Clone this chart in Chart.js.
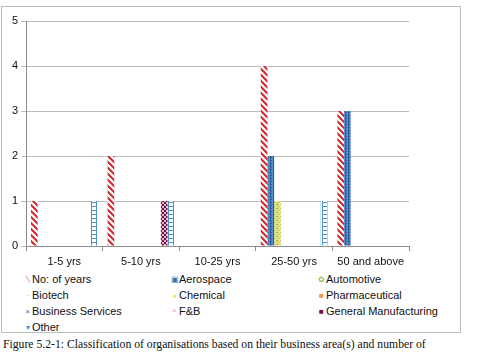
<!DOCTYPE html>
<html>
<head>
<meta charset="utf-8">
<script src="https://cdn.jsdelivr.net/npm/chart.js@4.4.0/dist/chart.umd.min.js"></script>
<style>
  body { margin: 0; background: #fff; width: 482px; height: 362px; overflow: hidden; position: relative; font-family: "Liberation Sans", Arial, sans-serif; }
  #frame { position: absolute; left: 1px; top: 6px; width: 460px; height: 327px; border: 1px solid #bdbdbd; box-sizing: border-box; }
  #wrap { position: absolute; left: 0; top: 0; width: 482px; height: 270px; }
  #legend { position: absolute; left: 24px; top: 271px; width: 440px; display: grid; grid-template-columns: 147px 147px 146px; grid-auto-rows: 16px; font-size: 11px; color: #111; }
  #legend div { display: flex; align-items: center; white-space: nowrap; }
  #legend .mk { display: inline-block; width: 7px; text-align: center; margin-right: 1px; font-size: 8px; line-height: 9px; }
  #caption { position: absolute; left: 3px; top: 338px; font-family: "Liberation Serif", "Times New Roman", serif; font-size: 11.7px; color: #111; white-space: nowrap; }
</style>
</head>
<body>
<div id="frame"></div>
<div id="wrap"><canvas id="chart" width="482" height="270"></canvas></div>
<div id="legend"></div>
<div id="caption">Figure 5.2-1: Classification of organisations based on their business area(s) and number of</div>
<script>
// === DATA ===
const categories = ["1-5 yrs", "5-10 yrs", "10-25 yrs", "25-50 yrs", "50 and above"];
const seriesNames = ["No: of years", "Aerospace", "Automotive", "Biotech", "Chemical",
  "Pharmaceutical", "Business Services", "F&B", "General Manufacturing", "Other"];
const noOfYears     = [1, 2, 0, 4, 3];
const aerospace     = [0, 0, 0, 2, 3];
const automotive    = [0, 0, 0, 1, 0];
const biotech       = [0, 0, 0, 0, 0];
const chemical      = [0, 0, 0, 0, 0];
const pharma        = [0, 0, 0, 0, 0];
const businessServ  = [0, 0, 0, 0, 0];
const fnb           = [0, 0, 0, 0, 0];
const generalManuf  = [0, 1, 0, 0, 0];
const other         = [1, 1, 0, 1, 0];
const yTicks = [0, 1, 2, 3, 4, 5];

// small repeating fills like the Excel patterns
function makePattern(w, h, draw) {
  const c = document.createElement("canvas");
  c.width = w; c.height = h;
  draw(c.getContext("2d"));
  return c.getContext("2d").createPattern(c, "repeat");
}

const stripes = makePattern(6, 6, g => {
  g.fillStyle = "#fff"; g.fillRect(0, 0, 6, 6);
  g.strokeStyle = "#d0262c"; g.lineWidth = 2;
  g.beginPath();
  g.moveTo(-1, -1); g.lineTo(7, 7);
  g.moveTo(-4, 2); g.lineTo(2, 8);
  g.moveTo(2, -4); g.lineTo(8, 2);
  g.stroke();
});
const aeroFill = makePattern(3, 3, g => {
  g.fillStyle = "#5b8ccb"; g.fillRect(0, 0, 3, 3);
  g.fillStyle = "#2c5c9c"; g.fillRect(0, 0, 1, 3); g.fillRect(1, 1, 1, 1);
});
const autoFill = makePattern(4, 4, g => {
  g.fillStyle = "#e9e27a"; g.fillRect(0, 0, 4, 4);
  g.fillStyle = "#8fae5a"; g.fillRect(0, 0, 1, 1); g.fillRect(2, 2, 1, 1); g.fillRect(1, 0, 1, 1);
});
const gmFill = makePattern(4, 4, g => {
  g.fillStyle = "#6e0f3c"; g.fillRect(0, 0, 4, 4);
  g.fillStyle = "#e6b8cc"; g.fillRect(0, 0, 2, 2); g.fillRect(2, 2, 2, 2);
});
const otherFill = makePattern(7, 4, g => {
  g.fillStyle = "#fff"; g.fillRect(0, 0, 7, 4);
  g.fillStyle = "#4a8fd2";
  g.fillRect(0, 0, 1, 4); g.fillRect(5, 0, 1, 4); g.fillRect(0, 2, 6, 1);
});

const seriesValues = [noOfYears, aerospace, automotive, biotech, chemical,
  pharma, businessServ, fnb, generalManuf, other];
const seriesFills = [stripes, aeroFill, autoFill, "#f2b3c8", "#f5e642",
  "#f79646", "#4060b0", "#e06070", gmFill, otherFill];

const datasets = seriesNames.map((name, i) => ({
  label: name,
  data: seriesValues[i],
  backgroundColor: seriesFills[i],
  borderWidth: 0,
  categoryPercentage: 0.87,
  barPercentage: 1.0
}));

new Chart(document.getElementById("chart"), {
  type: "bar",
  data: { labels: categories, datasets },
  options: {
    responsive: false,
    animation: false,
    devicePixelRatio: 1,
    layout: { padding: { left: 0, right: 73, top: 21, bottom: 0 } },
    plugins: { legend: { display: false }, tooltip: { enabled: false } },
    scales: {
      x: {
        offset: true,
        grid: { display: true, drawOnChartArea: false, offset: true, tickLength: 5, color: "#8c8c8c" },
        border: { color: "#8c8c8c" },
        ticks: { color: "#111", font: { family: "Liberation Sans", size: 11 }, padding: 4, maxRotation: 0, autoSkip: false },
        afterFit: s => { s.height = 24; }
      },
      y: {
        min: 0, max: 5,
        afterBuildTicks: s => { s.ticks = yTicks.map(v => ({ value: v })); },
        grid: { color: "#bdbdbd", tickLength: 5 },
        border: { color: "#8c8c8c" },
        ticks: { color: "#111", font: { family: "Liberation Sans", size: 11 }, padding: 3 },
        afterFit: s => { s.width = 26; }
      }
    }
  }
});

// legend in three columns, like the original
const marks = [
  ["\u2572", "#d0262c", "6px"], ["\u25A3", "#3a6db0"], ["\u273F", "#9bbb59"], ["\u00B7", "#e38aa8"],
  ["\u25CF", "#f5e642", "7px"], ["\u25A0", "#f79646"], ["\u00D7", "#3b5fb0"], ["^", "#e06070"],
  ["\u25A0", "#7a1040"], ["\u25BE", "#4a8fd2"]
];
const legend = document.getElementById("legend");
seriesNames.forEach((name, i) => {
  const d = document.createElement("div");
  const m = document.createElement("span");
  m.className = "mk";
  m.textContent = marks[i][0];
  m.style.color = marks[i][1];
  if (marks[i][2]) m.style.fontSize = marks[i][2];
  d.appendChild(m);
  d.appendChild(document.createTextNode(name));
  legend.appendChild(d);
});
</script>
</body>
</html>
